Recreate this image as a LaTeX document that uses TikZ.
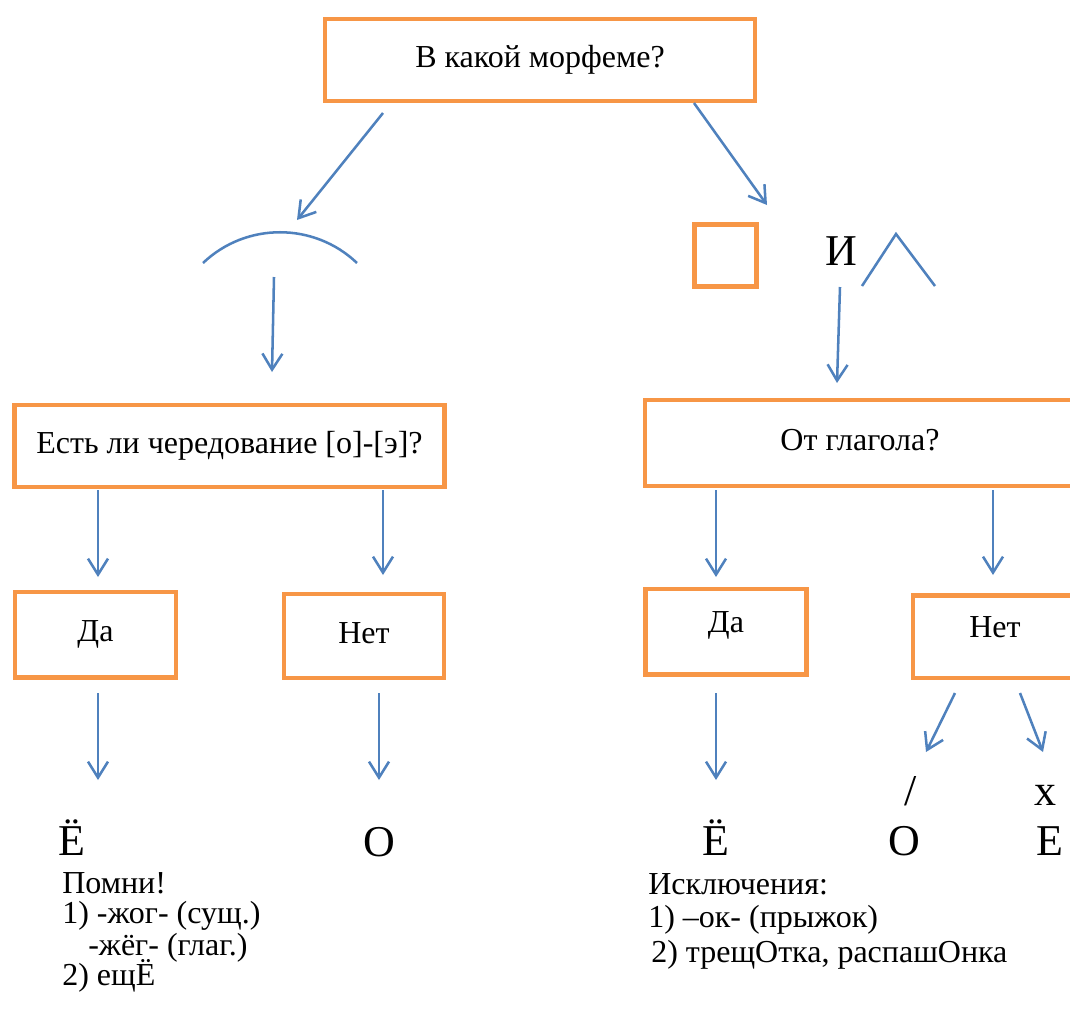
\documentclass[tikz,border=0pt]{standalone}
\usepackage{fontspec}
\setmainfont{Liberation Serif}
\usetikzlibrary{arrows.meta, positioning}
\definecolor{boxorange}{RGB}{247,150,70}
\definecolor{arrowblue}{RGB}{79,129,189}
\newcommand{\textsz}{\fontsize{24}{28}\selectfont}
\newcommand{\lettersz}{\fontsize{33}{38}\selectfont}
\tikzset{
	box/.style={
		rectangle,
		draw=boxorange,
		line width=3.5pt,
		minimum width=322.5pt,
		minimum height=61.5pt,
		inner sep=0pt,
		text centered,
		text height=16pt,
		text depth=5pt,
		font=\textsz
	},
	smallbox/.style={
		box,
		minimum width=120.75pt,
		minimum height=64pt
	},
	letter/.style={
		inner sep=0pt,
		anchor=base,
		font=\lettersz
	},
	note/.style={
		inner sep=0pt,
		anchor=base west,
		font=\textsz
	},
	curve/.style={draw=arrowblue, line width=1.9pt},
	arrow/.style={curve, -{Straight Barb[length=12pt,width=15pt]}}
}

\begin{document}
\begin{tikzpicture}[x=0.75pt, y=-0.75pt]
	\useasboundingbox (0,0) rectangle (1070,1008);
	\clip (0,0) rectangle (1070,1008);

	% Questions
	\node (morph) [box] at (540,60) {В какой морфеме?};
	\node (alt) [box] at (229.5,446) {Есть ли чередование [о]-[э]?};
	\node (verb) [box, minimum height=64.5pt] at (860,443) {От глагола?};

	% Answers
	\node (yesL) [smallbox] at (95.5,634.5) {Да};
	\node (noL) [smallbox, minimum width=120pt, minimum height=63pt] at (364,636) {Нет};
	\node (yesR) [smallbox, text depth=14pt] at (726,631.5) {Да};
	\node (noR) [smallbox, minimum width=123pt, minimum height=62pt, text depth=14pt] at (995,636.5) {Нет};

	% Morpheme signs
	\node (suffix) [box, minimum width=46.5pt, minimum height=46.5pt, line width=3.75pt] at (725,255) {};
	\draw [curve] (203,263) .. controls (246,222) and (314,222) .. (357,263);
	\draw [curve] (862,286) -- (896,234) -- (935,286);
	\node (andI) [letter] at (841,265) {И};

	% Letters
	\node (yoL) [letter] at (72,855) {Ё};
	\node (oL) [letter] at (379,856) {О};
	\node (yoR) [letter] at (716,855) {Ё};
	\node (oR) [letter] at (904,855) {О};
	\node (eR) [letter] at (1050,855) {Е};
	\node (slash) [letter] at (911,805) {/};
	\node (kha) [letter] at (1045,805) {x};

	% Notes
	\node (remember) [note] at (62,893) {Помни!};
	\node (rem1) [note] at (62,923) {1) -жог- (сущ.)};
	\node (rem1b) [note] at (88,955) {-жёг- (глаг.)};
	\node (rem2) [note] at (62,985) {2) ещЁ};
	\node (exc) [note] at (648,894) {Исключения:};
	\node (exc1) [note] at (648,927) {1) –ок- (прыжок)};
	\node (exc2) [note] at (651,962) {2) трещОтка, распашОнка};

	% Arrow ends
	\coordinate (rootA) at (383,113);
	\coordinate (arcA) at (297,220);
	\coordinate (suffA) at (694,103);
	\coordinate (sqA) at (767,205);
	\coordinate (arcB) at (274,277);
	\coordinate (altA) at (272,372);
	\coordinate (hatB) at (840,287);
	\coordinate (verbA) at (837,383);
	\coordinate (altY) at (98,490);
	\coordinate (yesLA) at (98,577);
	\coordinate (altN) at (383,490);
	\coordinate (noLA) at (383,575);
	\coordinate (verbY) at (716,490);
	\coordinate (yesRA) at (716,577);
	\coordinate (verbN) at (993,490);
	\coordinate (noRA) at (993,575);
	\coordinate (yesLB) at (98,693);
	\coordinate (yoLA) at (98,780);
	\coordinate (noLB) at (379,693);
	\coordinate (oLA) at (379,780);
	\coordinate (yesRB) at (716,693);
	\coordinate (yoRA) at (716,780);
	\coordinate (noRB) at (955,693);
	\coordinate (oRA) at (926,752);
	\coordinate (noRC) at (1020,693);
	\coordinate (eRA) at (1043,752);

	\draw [arrow] (rootA) -- (arcA);
	\draw [arrow] (suffA) -- (sqA);
	\draw [arrow] (arcB) -- (altA);
	\draw [arrow] (hatB) -- (verbA);
	\draw [arrow] (altY) -- (yesLA);
	\draw [arrow] (altN) -- (noLA);
	\draw [arrow] (verbY) -- (yesRA);
	\draw [arrow] (verbN) -- (noRA);
	\draw [arrow] (yesLB) -- (yoLA);
	\draw [arrow] (noLB) -- (oLA);
	\draw [arrow] (yesRB) -- (yoRA);
	\draw [arrow] (noRB) -- (oRA);
	\draw [arrow] (noRC) -- (eRA);
\end{tikzpicture}
\end{document}
